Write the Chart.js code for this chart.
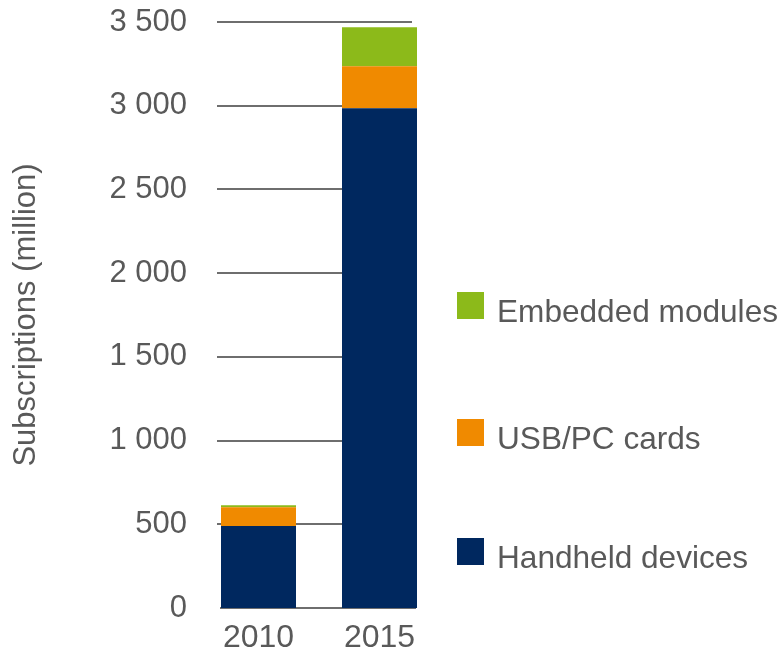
<!DOCTYPE html>
<html>
<head>
<meta charset="utf-8">
<script src="https://cdn.jsdelivr.net/npm/chart.js@4"></script>
<style>
    html, body { margin: 0; padding: 0; background: #fff; }
    canvas { display: block; }
</style>
</head>
<body>
<canvas id="subsChart" width="784" height="658"></canvas>
<script>
// Chart data (million subscriptions)
const years = ['2010', '2015'];
const handheld = [490, 2985];
const usbCards = [112, 250];
const embedded = [12, 233];
const seriesNames = ['Handheld devices', 'USB/PC cards', 'Embedded modules'];
const yMax = 3500;
const yStep = 500;

const colors = {
    handheld: '#00285f',
    usb: '#f08a00',
    embedded: '#8cba1a',
    text: '#595959',
    grid: '#6e6e6e'
};
const fontFamily = "'Liberation Sans', Arial, sans-serif";

// "3500" -> "3 500"
function spaced(value) {
    return String(value).replace(/\B(?=(\d{3})+(?!\d))/g, ' ');
}

// Gridlines: a bit shorter than the plot area, drawn behind the bars
const gridPlugin = {
    id: 'shortGrid',
    beforeDatasetsDraw(chart) {
        const { ctx, chartArea, scales: { y } } = chart;
        ctx.save();
        ctx.strokeStyle = colors.grid;
        ctx.lineWidth = 2;
        y.ticks.forEach(t => {
            const py = Math.round(y.getPixelForValue(t.value));
            ctx.beginPath();
            if (t.value === 0) {
                ctx.moveTo(chartArea.left + 22, py);
                ctx.lineTo(chartArea.right - 24, py);
            } else {
                ctx.moveTo(chartArea.left + 19, py);
                ctx.lineTo(chartArea.right - 28, py);
            }
            ctx.stroke();
        });
        ctx.restore();
    }
};

// Legend on the right, top item = top of the stack
const legendPlugin = {
    id: 'sideLegend',
    afterDraw(chart) {
        const { ctx } = chart;
        const boxTops = [292, 419, 538];
        const items = chart.data.datasets.slice().reverse();
        ctx.save();
        ctx.font = '31.6px ' + fontFamily;
        ctx.textBaseline = 'alphabetic';
        ctx.textAlign = 'left';
        items.forEach((ds, i) => {
            ctx.fillStyle = ds.backgroundColor;
            ctx.fillRect(457, boxTops[i], 27, 27);
            ctx.fillStyle = colors.text;
            ctx.fillText(ds.label, 497, boxTops[i] + 30);
        });
        ctx.restore();
    }
};

const barOpts = { barPercentage: 75 / 121, categoryPercentage: 1, borderWidth: 0 };

new Chart(document.getElementById('subsChart'), {
    type: 'bar',
    data: {
        labels: years,
        datasets: [
            { label: seriesNames[0], data: handheld, backgroundColor: colors.handheld, ...barOpts },
            { label: seriesNames[1], data: usbCards, backgroundColor: colors.usb, ...barOpts },
            { label: seriesNames[2], data: embedded, backgroundColor: colors.embedded, ...barOpts }
        ]
    },
    options: {
        responsive: false,
        animation: false,
        layout: {
            padding: { top: 22, right: 344, bottom: 0, left: 0 }
        },
        plugins: {
            legend: { display: false },
            tooltip: { enabled: false }
        },
        scales: {
            x: {
                stacked: true,
                grid: { display: false, drawTicks: false },
                border: { display: false },
                ticks: {
                    color: colors.text,
                    font: { family: fontFamily, size: 32 },
                    padding: 11,
                    maxRotation: 0
                },
                afterFit: scale => { scale.height = 50; }
            },
            y: {
                stacked: true,
                min: 0,
                max: yMax,
                grid: { display: false, drawTicks: false },
                border: { display: false },
                ticks: {
                    stepSize: yStep,
                    color: colors.text,
                    font: { family: fontFamily, size: 31 },
                    padding: 11,
                    callback: value => spaced(value)
                },
                title: {
                    display: true,
                    text: 'Subscriptions (million)',
                    color: colors.text,
                    font: { family: fontFamily, size: 31 },
                    padding: { top: 8, bottom: 0 }
                },
                afterFit: scale => {
                    scale.width = 198;
                    scale.paddingTop = 0;
                    scale.paddingBottom = 0;
                }
            }
        }
    },
    plugins: [gridPlugin, legendPlugin]
});
</script>
</body>
</html>
